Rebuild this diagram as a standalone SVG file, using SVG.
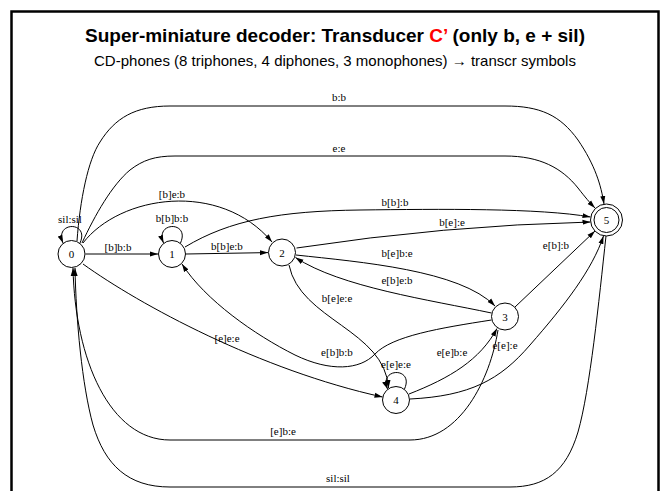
<svg xmlns="http://www.w3.org/2000/svg" width="667" height="491" viewBox="0 0 667 491">
<style>
.t{font-family:"Liberation Sans",Arial,sans-serif;text-anchor:middle}
.lb{font-family:"Liberation Serif","Times New Roman",serif;font-size:11px;text-anchor:middle;fill:#000}
.e{fill:none;stroke:#000;stroke-width:1;marker-end:url(#ah)}
.n{fill:#fff;stroke:#000;stroke-width:1}
</style>
<defs>
<marker id="ah" viewBox="0 0 8 6" refX="8" refY="3" markerWidth="8" markerHeight="6" markerUnits="userSpaceOnUse" orient="auto"><path d="M0,0.5 L8,3 L0,5.5 z" fill="#000"/></marker>
</defs>
<rect x="0" y="0" width="667" height="491" fill="#fff"/>
<rect x="11.5" y="11.5" width="647" height="500" fill="none" stroke="#000" stroke-width="2.5"/>
<text class="t" x="335" y="42" font-size="19" font-weight="bold">Super-miniature decoder: Transducer <tspan fill="#ff0000">C’</tspan> (only b, e + sil)</text>
<text class="t" x="335" y="66" font-size="15">CD-phones (8 triphones, 4 diphones, 3 monophones) → transcr symbols</text>
<g id="edges">
<path class="e" d="M80,243 C90,221 54,221 63,243"/>
<text class="lb" x="70" y="222.5">sil:sil</text>
<path class="e" d="M85.5,254 L158,254"/>
<text class="lb" x="118" y="251">[b]b:b</text>
<path class="e" d="M83,243 C120,195 220,180 272,242"/>
<text class="lb" x="172" y="198">[b]e:b</text>
<path class="e" d="M180.5,243 C190.5,221 154.5,221 163.5,243"/>
<text class="lb" x="172" y="222">b[b]b:b</text>
<path class="e" d="M186,254 L268,252.6"/>
<text class="lb" x="227" y="250">b[b]e:b</text>
<path class="e" d="M185,247 C230,220 280,211 360,210 C440,209 540,208 590.5,217"/>
<text class="lb" x="395" y="206">b[b]:b</text>
<path class="e" d="M296.5,248 Q444,225.5 590.5,222"/>
<text class="lb" x="452" y="226">b[e]:e</text>
<path class="e" d="M296,255 C360,262 460,270 495,306"/>
<text class="lb" x="397" y="257">b[e]b:e</text>
<path class="e" d="M491.5,313 C430,300 340,287 295.5,257.5"/>
<text class="lb" x="397" y="284">e[b]e:b</text>
<path class="e" d="M289,265 C300,320 385,330 388.5,388"/>
<text class="lb" x="337" y="302">b[e]e:e</text>
<path class="e" d="M491.5,320 C440,328 392,336 375,354 C360,370 330,372 295,355 C255,335 205,300 182,264"/>
<text class="lb" x="337" y="356">e[b]b:b</text>
<path class="e" d="M83,264 C140,305 260,370 382.5,397"/>
<text class="lb" x="227" y="342">[e]e:e</text>
<path class="e" d="M404.5,389 C414.5,367 378.5,367 387.5,389"/>
<text class="lb" x="396" y="368">e[e]e:e</text>
<path class="e" d="M409,394 C450,378 480,360 497,328.5"/>
<text class="lb" x="452" y="356">e[e]b:e</text>
<path class="e" d="M515,307 L595,231"/>
<text class="lb" x="556" y="249">e[b]:b</text>
<path class="e" d="M410,399 C470,396 500,380 530,345 C565,305 592,270 603.5,236"/>
<text class="lb" x="505" y="349">e[e]:e</text>
<path class="e" d="M498,330 C490,380 460,440 410,440 L170,440 C110,440 75,360 73,268"/>
<text class="lb" x="283" y="435">[e]b:e</text>
<path class="e" d="M606,236 C599,300 590,390 578,432 C566,472 545,487 510,487 L170,487 C128,487 105,465 93,425 C82,385 76,320 75,268"/>
<text class="lb" x="338" y="481.5">sil:sil</text>
<path class="e" d="M77,241 C80,200 88,160 100,142 C115,118 135,106 170,106 L505,106 C540,106 560,115 578,140 C595,165 601,185 604,204"/>
<text class="lb" x="339" y="100.5">b:b</text>
<path class="e" d="M82,243 C95,215 112,185 130,170 C143,160 155,156 175,156 L505,156 C540,156 562,168 578,188 C585,197 590,203 595,208"/>
<text class="lb" x="339" y="151.5">e:e</text>
</g>
<g id="node0"><circle class="n" cx="71.5" cy="254" r="13.5" stroke-width="1.8"/><text class="lb" x="71.5" y="258">0</text></g>
<g id="node1"><circle class="n" cx="172" cy="254" r="13.5"/><text class="lb" x="172" y="258">1</text></g>
<g id="node2"><circle class="n" cx="282" cy="252.5" r="13.5"/><text class="lb" x="282" y="256.5">2</text></g>
<g id="node3"><circle class="n" cx="505" cy="316.5" r="13.5"/><text class="lb" x="505" y="320.5">3</text></g>
<g id="node4"><circle class="n" cx="396" cy="400" r="13.5"/><text class="lb" x="396" y="404">4</text></g>
<g id="node5"><circle class="n" cx="606.5" cy="220" r="16"/><circle class="n" cx="606.5" cy="220" r="12.5"/><text class="lb" x="606.5" y="224">5</text></g>
</svg>
